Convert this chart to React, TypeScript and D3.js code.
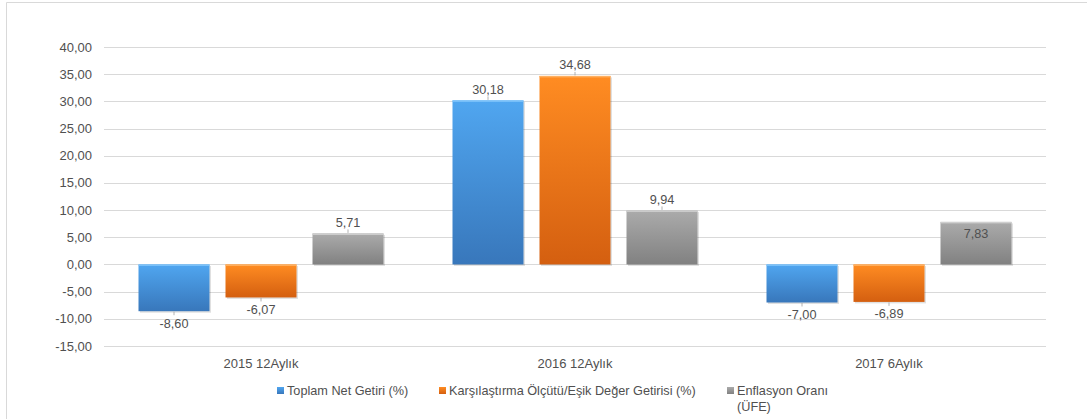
import React, { useEffect, useRef } from 'react';
import * as d3 from 'd3';

const categories = ['2015 12Aylık', '2016 12Aylık', '2017 6Aylık'];
const seriesNames = [
  'Toplam Net Getiri (%)',
  'Karşılaştırma Ölçütü/Eşik Değer Getirisi (%)',
  'Enflasyon Oranı (ÜFE)',
];
const netReturn = [-8.6, 30.18, -7.0];
const benchmark = [-6.07, 34.68, -6.89];
const inflation = [5.71, 9.94, 7.83];
const yTicks = [-15, -10, -5, 0, 5, 10, 15, 20, 25, 30, 35, 40];

const W = 1087;
const H = 419;
const margin = { top: 47, right: 41, bottom: 73, left: 104 };

const colors = [
  { top: '#50a6f0', bottom: '#3877bb', edge: '#7cc3fa' },
  { top: '#ff8c22', bottom: '#d45f10', edge: '#ffb060' },
  { top: '#ababab', bottom: '#818181', edge: '#cfcfcf' },
];

const fmt = (v: number) => v.toFixed(2).replace('.', ',');
const FONT = 'Liberation Sans, Arial, sans-serif';
const TEXT = '#505050';

const drawChart = (node: SVGSVGElement) => {
  const svg = d3.select(node);
  svg.selectAll('*').remove();

  const series = [netReturn, benchmark, inflation];
  const innerW = W - margin.left - margin.right;
  const innerH = H - margin.top - margin.bottom;

  const x0 = d3.scaleBand<string>().domain(categories).range([0, innerW]);
  const barW = 71;
  const gap = 16;
  const groupW = 3 * barW + 2 * gap;
  const y = d3.scaleLinear().domain([-15, 40]).range([innerH, 0]);

  const defs = svg.append('defs');
  colors.forEach((c, i) => {
    const g = defs
      .append('linearGradient')
      .attr('id', `grad${i}`)
      .attr('x1', 0)
      .attr('y1', 0)
      .attr('x2', 0)
      .attr('y2', 1);
    g.append('stop').attr('offset', '0%').attr('stop-color', c.top);
    g.append('stop').attr('offset', '100%').attr('stop-color', c.bottom);
  });

  // outer frame
  svg
    .append('path')
    .attr('d', `M6.5,${H} V2.5 H${W}`)
    .attr('fill', 'none')
    .attr('stroke', '#d9d9d9');

  const g = svg.append('g').attr('transform', `translate(${margin.left},${margin.top})`);

  // grid + y labels
  g.selectAll('.grid')
    .data(yTicks)
    .enter()
    .append('line')
    .attr('x1', 0)
    .attr('x2', innerW)
    .attr('y1', (d) => Math.round(y(d)) + 0.5)
    .attr('y2', (d) => Math.round(y(d)) + 0.5)
    .attr('stroke', '#d9d9d9')
    .attr('stroke-width', 1);

  g.selectAll('.ytick')
    .data(yTicks)
    .enter()
    .append('text')
    .attr('x', -12)
    .attr('y', (d) => y(d))
    .attr('dy', '0.35em')
    .attr('text-anchor', 'end')
    .attr('font-family', FONT)
    .attr('font-size', 13)
    .attr('fill', TEXT)
    .text((d) => fmt(d));

  // category labels
  g.selectAll('.xlab')
    .data(categories)
    .enter()
    .append('text')
    .attr('x', (d) => (x0(d) || 0) + x0.bandwidth() / 2)
    .attr('y', innerH + 17)
    .attr('dy', '0.35em')
    .attr('text-anchor', 'middle')
    .attr('font-family', FONT)
    .attr('font-size', 13)
    .attr('fill', TEXT)
    .text((d) => d);

  // bars
  series.forEach((vals, si) => {
    const bx = (ci: number) =>
      (x0(categories[ci]) || 0) + (x0.bandwidth() - groupW) / 2 + si * (barW + gap);
    const bars = g.append('g');
    vals.forEach((v, ci) => {
      const top = y(Math.max(0, v));
      const h = Math.abs(y(v) - y(0));
      bars
        .append('rect')
        .attr('x', bx(ci) + 1.5)
        .attr('y', top + 1.5)
        .attr('width', barW)
        .attr('height', h)
        .attr('fill', '#000')
        .attr('opacity', 0.12);
      bars
        .append('rect')
        .attr('x', bx(ci))
        .attr('y', top)
        .attr('width', barW)
        .attr('height', h)
        .attr('fill', `url(#grad${si})`);
      bars
        .append('rect')
        .attr('x', bx(ci))
        .attr('y', top)
        .attr('width', barW)
        .attr('height', 1.5)
        .attr('fill', colors[si].edge);

      const inside = si === 2 && ci === 2;
      const cx = bx(ci) + barW / 2;
      let ly: number;
      if (inside) ly = top + 12;
      else if (v >= 0) ly = top - 11;
      else ly = y(v) + 12;
      if (!inside) {
        const edge = v >= 0 ? top : y(v);
        const dir = v >= 0 ? -1 : 1;
        bars
          .append('line')
          .attr('x1', cx)
          .attr('x2', cx)
          .attr('y1', edge + dir * 0.5)
          .attr('y2', edge + dir * 4)
          .attr('stroke', '#a0a0a0')
          .attr('stroke-width', 0.8);
      }
      bars
        .append('text')
        .attr('x', cx)
        .attr('y', ly)
        .attr('dy', '0.35em')
        .attr('text-anchor', 'middle')
        .attr('font-family', FONT)
        .attr('font-size', 12.7)
        .attr('fill', TEXT)
        .text(fmt(v));
    });
  });

  // legend
  const legendX = [277, 439, 727];
  const leg = svg.append('g');
  seriesNames.forEach((name, i) => {
    const lx = legendX[i];
    leg
      .append('rect')
      .attr('x', lx)
      .attr('y', 387)
      .attr('width', 7)
      .attr('height', 7)
      .attr('fill', `url(#grad${i})`);
    const lines = i === 2 ? ['Enflasyon Oranı', '(ÜFE)'] : [name];
    lines.forEach((t, li) => {
      leg
        .append('text')
        .attr('x', lx + 10)
        .attr('y', 391 + li * 16)
        .attr('dy', '0.35em')
        .attr('font-family', FONT)
        .attr('font-size', 12.7)
        .attr('fill', TEXT)
        .text(t);
    });
  });
};

export default function App() {
  const ref = useRef<SVGSVGElement>(null);
  useEffect(() => {
    if (ref.current) drawChart(ref.current);
  }, []);
  return (
    <svg
      ref={ref}
      width={W}
      height={H}
      style={{ position: 'absolute', left: 0, top: 0, background: '#fff' }}
    />
  );
}
